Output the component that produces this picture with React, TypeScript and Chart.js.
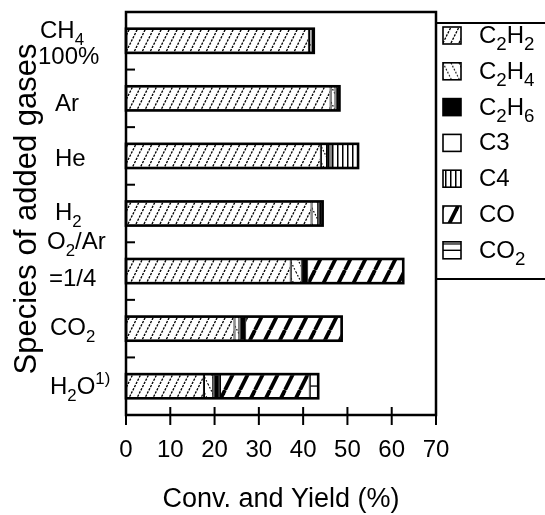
import React, { useEffect, useRef } from "react";
import { Chart, registerables } from "chart.js";

Chart.register(...registerables);

// ---- data ----
const categories = ["CH_{4}\n100%", "Ar", "He", "H_{2}", "O_{2}/Ar\n=1/4", "CO_{2}", "H_{2}O^{1)}"];
const seriesNames = ["C_{2}H_{2}", "C_{2}H_{4}", "C_{2}H_{6}", "C3", "C4", "CO", "CO_{2}"];
const c2h2 = [41.3, 46.2, 44.0, 41.9, 37.2, 24.5, 17.6];
const c2h4 = [0.6, 1.1, 1.4, 1.5, 2.5, 1.1, 2.1];
const c2h6 = [0.5, 0.9, 0.5, 1.0, 1.2, 1.3, 1.5];
const c3 = [0, 0, 0.3, 0, 0, 0, 0];
const c4 = [0, 0, 6.2, 0, 0, 0, 0];
const co = [0, 0, 0, 0, 21.7, 21.8, 20.3];
const co2 = [0, 0, 0, 0, 0, 0, 1.9];
const xTicks = [0, 10, 20, 30, 40, 50, 60, 70];
const xTitle = "Conv. and Yield (%)";
const yTitle = "Species of added gases";

const series = [c2h2, c2h4, c2h6, c3, c4, co, co2];
const FAMILY = "'Liberation Sans', Arial, sans-serif";

function tile(w: number, h: number, draw: (g: CanvasRenderingContext2D, w: number, h: number) => void) {
  const c = document.createElement("canvas");
  c.width = w;
  c.height = h;
  const g = c.getContext("2d")!;
  g.fillStyle = "#fff";
  g.fillRect(0, 0, w, h);
  draw(g, w, h);
  return g.createPattern(c, "repeat")!;
}

function makePatterns(): (CanvasPattern | string)[] {
  const fwd = tile(8, 16, (g, w, h) => {
    g.strokeStyle = "#000";
    g.lineWidth = 1.3;
    g.setLineDash([2.4, 1.2]);
    for (const dx of [-w, 0, w]) {
      g.beginPath();
      g.moveTo(dx, h);
      g.lineTo(dx + w, 0);
      g.stroke();
    }
  });
  const back = tile(8, 16, (g, w, h) => {
    g.strokeStyle = "#000";
    g.lineWidth = 1.2;
    g.setLineDash([1.6, 1.8]);
    for (const dx of [-w, 0, w]) {
      g.beginPath();
      g.moveTo(dx, 0);
      g.lineTo(dx + w, h);
      g.stroke();
    }
  });
  const vert = tile(5, 4, (g) => {
    g.fillStyle = "#000";
    g.fillRect(2, 0, 1.5, 4);
  });
  const thick = tile(15, 30, (g, w, h) => {
    g.strokeStyle = "#000";
    g.lineWidth = 3.8;
    for (const dx of [-w, 0, w]) {
      g.beginPath();
      g.moveTo(dx, h);
      g.lineTo(dx + w, 0);
      g.stroke();
    }
  });
  const horiz = tile(4, 24, (g) => {
    g.fillStyle = "#000";
    g.fillRect(0, 1.4, 4, 1.3);
  });
  return [fwd, back, "#000", "#fff", vert, thick, horiz];
}

type Seg = { t: string; k: "n" | "sub" | "sup" };
function parseRich(s: string): Seg[] {
  const segs: Seg[] = [];
  const re = /([_^])\{([^}]*)\}/g;
  let last = 0;
  let m: RegExpExecArray | null;
  while ((m = re.exec(s))) {
    if (m.index > last) segs.push({ t: s.slice(last, m.index), k: "n" });
    segs.push({ t: m[2], k: m[1] === "_" ? "sub" : "sup" });
    last = re.lastIndex;
  }
  if (last < s.length) segs.push({ t: s.slice(last), k: "n" });
  return segs;
}

function drawRich(
  ctx: CanvasRenderingContext2D,
  s: string,
  x: number,
  y: number,
  size: number,
  align: "left" | "center" | "right" = "left",
  smallRatio = 0.72
) {
  const segs = parseRich(s);
  const small = size * smallRatio;
  let w = 0;
  for (const seg of segs) {
    ctx.font = `${seg.k === "n" ? size : small}px ${FAMILY}`;
    w += ctx.measureText(seg.t).width;
  }
  let cx = align === "center" ? x - w / 2 : align === "right" ? x - w : x;
  ctx.textAlign = "left";
  ctx.textBaseline = "alphabetic";
  ctx.fillStyle = "#000";
  for (const seg of segs) {
    ctx.font = `${seg.k === "n" ? size : small}px ${FAMILY}`;
    const dy = seg.k === "sub" ? size * 0.3 : seg.k === "sup" ? -size * 0.42 : 0;
    ctx.fillText(seg.t, cx, y + dy);
    cx += ctx.measureText(seg.t).width;
  }
}

// label layout (text centres / left edges)
const labelLeft = [40, 55, 55, 55, 47, 50, 50];
const labelCenters = [[29, 55], [102], [157], [211], [240, 277], [326], [385]];

export default function App() {
  const ref = useRef<HTMLCanvasElement>(null);
  useEffect(() => {
    document.body.style.margin = "0";
    const patterns = makePatterns();
    const deco = {
      id: "deco",
      afterDatasetsDraw(chart: any) {
        const ctx = chart.ctx as CanvasRenderingContext2D;
        const xs = chart.scales.x;
        const ys = chart.scales.y;
        const step = (chart.chartArea.bottom - chart.chartArea.top) / categories.length;
        const h = step * 0.42;
        ctx.save();
        ctx.strokeStyle = "#000";
        ctx.lineWidth = 2.6;
        categories.forEach((_, i) => {
          const total = series.reduce((a, s) => a + s[i], 0);
          const x0 = xs.getPixelForValue(0);
          const x1 = xs.getPixelForValue(total);
          const yc = ys.getPixelForValue(i);
          ctx.strokeRect(x0, yc - h / 2, x1 - x0, h);
        });
        ctx.restore();
      },
      afterDraw(chart: any) {
        const ctx = chart.ctx as CanvasRenderingContext2D;
        const a = chart.chartArea;
        const xs = chart.scales.x;
        const step = (a.bottom - a.top) / categories.length;
        ctx.save();
        ctx.strokeStyle = "#000";
        // frame
        ctx.lineWidth = 2.5;
        ctx.strokeRect(a.left, a.top, a.right - a.left, a.bottom - a.top);
        // y ticks (inside) at category boundaries
        ctx.lineWidth = 2;
        for (let k = 1; k < categories.length; k++) {
          const y = a.top + k * step;
          ctx.beginPath();
          ctx.moveTo(a.left, y);
          ctx.lineTo(a.left + 9, y);
          ctx.stroke();
        }
        // x ticks crossing axis
        xTicks.forEach((v) => {
          const x = xs.getPixelForValue(v);
          ctx.beginPath();
          ctx.moveTo(x, a.bottom - 8);
          ctx.lineTo(x, a.bottom + 10);
          ctx.stroke();
          drawRich(ctx, String(v), x, 457, 24, "center");
        });
        // x title
        drawRich(ctx, xTitle, (a.left + a.right) / 2, 507, 27, "center");
        // y title
        ctx.save();
        ctx.translate(25, 209);
        ctx.rotate(-Math.PI / 2);
        drawRich(ctx, yTitle, 0, 31 * 0.36, 31, "center");
        ctx.restore();
        // y labels
        categories.forEach((lab, i) => {
          const lines = lab.split("\n");
          lines.forEach((ln, j) => {
            const cy = labelCenters[i][j];
            const lx = i === 0 && j === 1 ? 38 : i === 4 && j === 1 ? 49 : labelLeft[i];
            drawRich(ctx, ln, lx, cy + 24 * 0.36, 24, "left", 0.7);
          });
        });
        // legend box
        ctx.lineWidth = 2;
        ctx.beginPath();
        ctx.moveTo(a.right, 23);
        ctx.lineTo(548, 23);
        ctx.moveTo(a.right, 279);
        ctx.lineTo(548, 279);
        ctx.stroke();
        seriesNames.forEach((name, i) => {
          const base = 43 + i * 35.8;
          const sy = base - 16;
          ctx.save();
          ctx.translate(443, sy);
          ctx.fillStyle = patterns[i] as any;
          ctx.fillRect(0, 0, 18, 17);
          if (i === 6) {
            ctx.fillStyle = "#000";
            ctx.fillRect(0, 7.8, 18, 1.4);
          }
          ctx.lineWidth = 1.6;
          ctx.strokeRect(0, 0, 18, 17);
          ctx.restore();
          drawRich(ctx, name, 479, base, 24, "left", 0.78);
        });
        ctx.restore();
      },
    };
    const chart = new Chart(ref.current!, {
      type: "bar",
      data: {
        labels: categories,
        datasets: series.map((d, i) => ({
          label: seriesNames[i],
          data: d.map((v) => (v > 0 ? v : null)),
          backgroundColor: patterns[i] as any,
          borderColor: "#000",
          borderWidth: 1.1,
          borderSkipped: false,
          barPercentage: 0.42,
          categoryPercentage: 1,
        })),
      },
      options: {
        indexAxis: "y",
        responsive: false,
        animation: false,
        layout: { padding: { left: 126, right: 109, top: 12, bottom: 100 } },
        scales: {
          x: { type: "linear", stacked: true, min: 0, max: 70, display: false },
          y: { stacked: true, display: false },
        },
        plugins: { legend: { display: false }, tooltip: { enabled: false } },
      },
      plugins: [deco],
    });
    return () => chart.destroy();
  }, []);
  return (
    <div style={{ position: "absolute", left: 0, top: 0, width: 545, height: 515, background: "#fff" }}>
      <canvas ref={ref} width={545} height={515} style={{ width: 545, height: 515, display: "block" }} />
    </div>
  );
}
